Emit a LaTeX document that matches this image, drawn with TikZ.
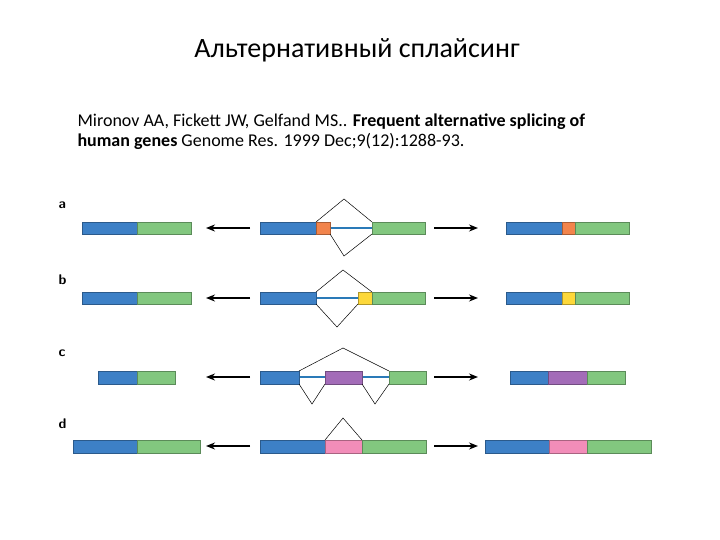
\documentclass[tikz,border=0pt]{standalone}
\usepackage{fontspec}
\setmainfont{Carlito}
\usetikzlibrary{arrows.meta}
\definecolor{cb}{HTML}{3D80C6}
\definecolor{cg}{HTML}{82C77F}
\definecolor{co}{HTML}{F2844C}
\definecolor{cy}{HTML}{FDD83A}
\definecolor{cp}{HTML}{A36CB8}
\definecolor{ck}{HTML}{F28DB9}
\definecolor{cl}{HTML}{2A7AB8}
\tikzset{
 ex/.style={draw=#1!70!black, fill=#1, line width=0.8pt},
 intron/.style={draw=cl, line width=1.3pt},
 junc/.style={draw=black, line width=0.5pt},
 arr/.style={-{Stealth[length=9pt,width=7pt]}, line width=1.5pt},
 lab/.style={font=\sffamily\bfseries\fontsize{14}{16}\selectfont, anchor=west}
}
\newcommand{\ex}[5]{\path[ex=#3] (#1,#4) rectangle (#2,#5);}
\begin{document}
\begin{tikzpicture}[x=1pt,y=-1pt]
\useasboundingbox (0,0) rectangle (720,540);
\node (title) at (357,50) {\fontsize{28}{32}\selectfont Альтернативный сплайсинг};
\node[anchor=west,align=left,font=\fontsize{18}{20}\selectfont] (cite) at (74,132) {Mironov AA, Fickett JW, Gelfand MS.. \textbf{Frequent alternative splicing of}\\\textbf{human genes} Genome Res. 1999 Dec;9(12):1288-93.};
\node[lab] (la) at (55,205) {a};
\node[lab] (lb) at (55,280) {b};
\node[lab] (lc) at (55,353) {c};
\node[lab] (ld) at (55,424) {d};
% arrows
\foreach \y/\n in {228/a,298/b,377/c,446/d}{
 \coordinate (ls\n) at (250,\y); \coordinate (le\n) at (206,\y);
 \coordinate (rs\n) at (434,\y); \coordinate (re\n) at (478,\y);
 \draw[arr] (ls\n) -- (le\n);
 \draw[arr] (rs\n) -- (re\n);
}
% row a
\ex{82}{137}{cb}{222}{234}\ex{137}{191}{cg}{222}{234}
\draw[intron] (330,228) -- (372,228);
\ex{260}{316}{cb}{222}{234}\ex{316}{330}{co}{222}{234}\ex{372}{425}{cg}{222}{234}
\coordinate (at) at (344,199); \coordinate (ab) at (344,256);
\draw[junc] (316,222) -- (at) -- (372,222);
\draw[junc] (330,234) -- (ab) -- (372,234);
\ex{506}{562}{cb}{222}{234}\ex{562}{575}{co}{222}{234}\ex{575}{629}{cg}{222}{234}
% row b
\ex{82}{137}{cb}{292}{304}\ex{137}{191}{cg}{292}{304}
\draw[intron] (316,298) -- (358,298);
\ex{260}{316}{cb}{292}{304}\ex{358}{372}{cy}{292}{304}\ex{372}{425}{cg}{292}{304}
\coordinate (bt) at (343,270); \coordinate (bb) at (337,327);
\draw[junc] (316,292) -- (bt) -- (372,292);
\draw[junc] (316,304) -- (bb) -- (358,304);
\ex{506}{562}{cb}{292}{304}\ex{562}{575}{cy}{292}{304}\ex{575}{629}{cg}{292}{304}
% row c
\ex{98}{137}{cb}{371}{384}\ex{137}{175}{cg}{371}{384}
\draw[intron] (299,377) -- (389,377);
\ex{260}{299}{cb}{371}{384}\ex{325}{362}{cp}{371}{384}\ex{389}{426}{cg}{371}{384}
\coordinate (ct) at (343,348); \coordinate (cv1) at (312,404); \coordinate (cv2) at (375,404);
\draw[junc] (299,371) -- (ct) -- (389,371);
\draw[junc] (299,384) -- (cv1) -- (325,384);
\draw[junc] (362,384) -- (cv2) -- (389,384);
\ex{510}{548}{cb}{371}{384}\ex{548}{587}{cp}{371}{384}\ex{587}{625}{cg}{371}{384}
% row d
\ex{73}{137}{cb}{440}{453}\ex{137}{200}{cg}{440}{453}
\ex{260}{325}{cb}{440}{453}\ex{325}{362}{ck}{440}{453}\ex{362}{426}{cg}{440}{453}
\coordinate (dt) at (343,418);
\draw[junc] (325,440) -- (dt) -- (362,440);
\ex{485}{549}{cb}{440}{453}\ex{549}{587}{ck}{440}{453}\ex{587}{651}{cg}{440}{453}
\end{tikzpicture}
\end{document}
